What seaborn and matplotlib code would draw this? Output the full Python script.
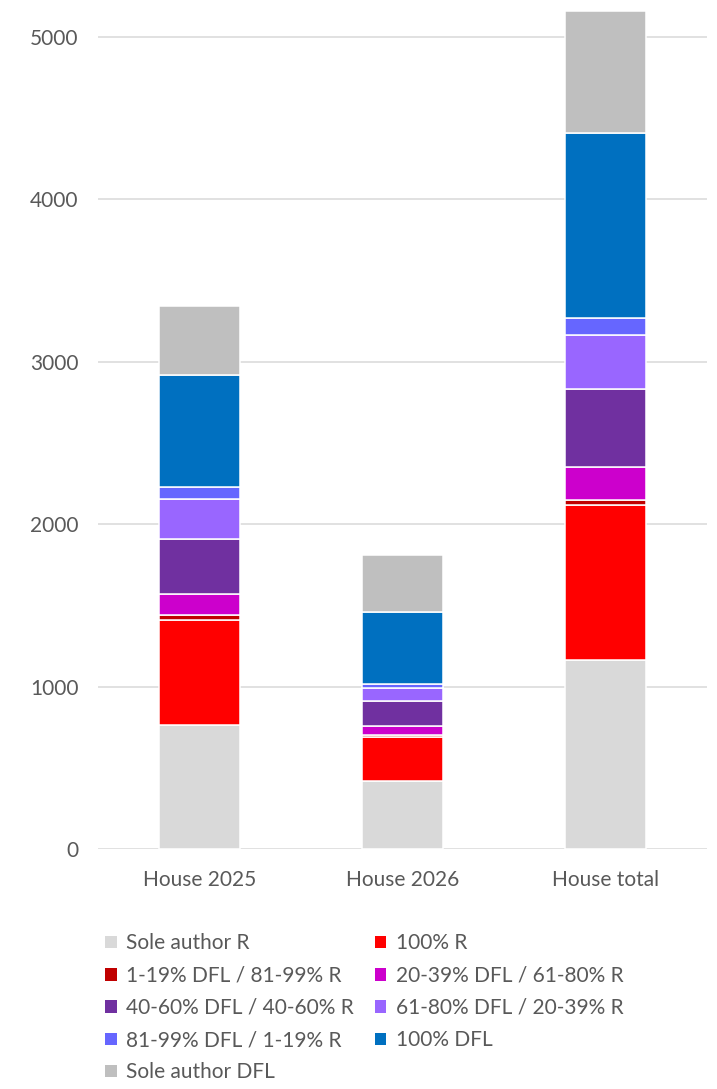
import numpy as np
import pandas as pd
import matplotlib
matplotlib.use("Agg")
import matplotlib.pyplot as plt
from matplotlib.patches import Patch
import seaborn as sns

categories = ["House 2025", "House 2026", "House total"]
series_names = [
    "Sole author R",
    "100% R",
    "1-19% DFL / 81-99% R",
    "20-39% DFL / 61-80% R",
    "40-60% DFL / 40-60% R",
    "61-80% DFL / 20-39% R",
    "81-99% DFL / 1-19% R",
    "100% DFL",
    "Sole author DFL",
]
sole_r = [762, 417, 1166]
full_r = [649, 273, 951]
dfl_1_19 = [31, 12, 32]
dfl_20_39 = [128, 57, 203]
dfl_40_60 = [337, 152, 481]
dfl_61_80 = [250, 79, 331]
dfl_81_99 = [74, 26, 107]
full_dfl = [690, 443, 1140]
sole_dfl = [423, 350, 748]
y_ticks = [0, 1000, 2000, 3000, 4000, 5000]

series_values = [sole_r, full_r, dfl_1_19, dfl_20_39, dfl_40_60,
                 dfl_61_80, dfl_81_99, full_dfl, sole_dfl]
colors = ["#D9D9D9", "#FF0000", "#C00000", "#CC00CC", "#7030A0",
          "#9966FF", "#6666FF", "#0070C0", "#BFBFBF"]

sns.set_theme(style="white")
plt.rcParams["font.family"] = ["Lato", "DejaVu Sans"]
text_color = "#595959"

fig = plt.figure(figsize=(7.17, 10.89), dpi=100)
ax = fig.add_axes([98 / 717, 1 - 849 / 1089, 609 / 717, 849 / 1089])

bottom = np.zeros(len(categories))
for name, vals, col in zip(series_names, series_values, colors):
    df = pd.DataFrame({"cat": categories, "val": vals})
    sns.barplot(data=df, x="cat", y="val", order=categories, color=col,
                width=0.395, bottom=bottom, edgecolor="white", linewidth=1.1,
                saturation=1, ax=ax, errorbar=None)
    bottom = bottom + np.array(vals)

ax.set_xlim(-0.5, 2.5)
ax.set_ylim(0, 5228)
ax.set_yticks(y_ticks)
ax.set_xlabel("")
ax.set_ylabel("")
ax.grid(axis="y", color="#D9D9D9", linewidth=1.1)
ax.set_axisbelow(True)
for s in ax.spines.values():
    s.set_visible(False)
ax.tick_params(axis="both", length=0, labelsize=15, labelcolor=text_color)
ax.tick_params(axis="y", pad=14)
ax.tick_params(axis="x", pad=15)

# legend: excel fills row by row, matplotlib fills column by column
handles = [Patch(facecolor=c, edgecolor="none") for c in colors]
idx = [0, 2, 4, 6, 8, 1, 3, 5, 7]
fig.legend([handles[i] for i in idx], [series_names[i] for i in idx],
           ncol=2, loc="upper left", bbox_to_anchor=(97 / 717, 1 - 925 / 1089),
           frameon=False, fontsize=15, labelcolor=text_color,
           handlelength=0.55, handleheight=0.55, handletextpad=0.45,
           columnspacing=1.0, labelspacing=0.59, borderaxespad=0)

fig.savefig("out.png", dpi=100)
